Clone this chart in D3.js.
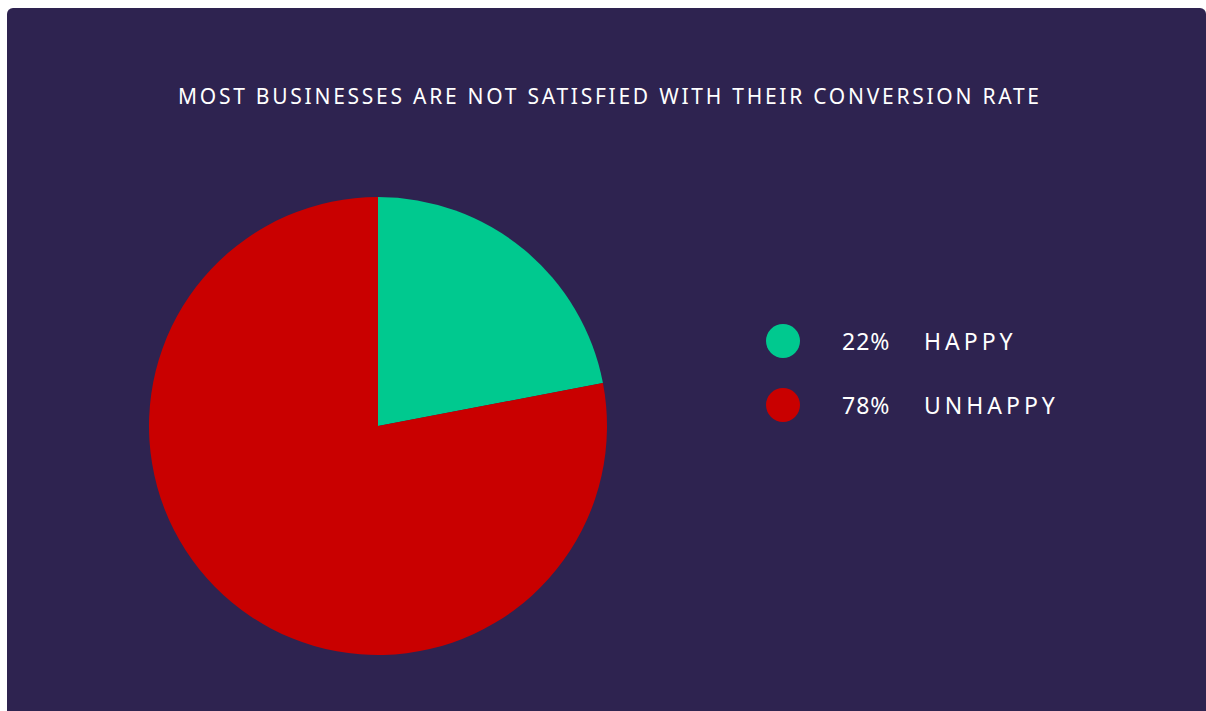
<!DOCTYPE html>
<html>
<head>
<meta charset="utf-8">
<script src="https://cdn.jsdelivr.net/npm/d3@7"></script>
<style>
  html, body { margin: 0; padding: 0; background: #ffffff; }
  svg { display: block; }
  text { font-family: "Noto Sans", "Open Sans", sans-serif; }
</style>
</head>
<body>
<script>
const title = "MOST BUSINESSES ARE NOT SATISFIED WITH THEIR CONVERSION RATE";
const categories = ["HAPPY", "UNHAPPY"];
const values = [22, 78];
const colors = ["#00C98F", "#C90000"];

const W = 1206, H = 711;
const svg = d3.select("body").append("svg").attr("width", W).attr("height", H);

svg.append("rect").attr("x", 7).attr("y", 8).attr("width", W - 7).attr("height", H - 8 + 6)
  .attr("rx", 6).attr("fill", "#2E2350");

svg.append("text").attr("x", 608.5).attr("y", 104).attr("text-anchor", "middle")
  .attr("fill", "#ffffff").attr("font-size", 21)
  .attr("textLength", 861).attr("lengthAdjust", "spacing")
  .attr("font-weight", 400)
  .text(title);

const data = categories.map((c, i) => ({ cat: c, value: values[i], color: colors[i] }));
const pie = d3.pie().value(d => d.value).sort(null);
const arc = d3.arc().innerRadius(0).outerRadius(229);
const g = svg.append("g").attr("transform", "translate(378,426)");
g.selectAll("path").data(pie(data)).join("path")
  .attr("d", arc).attr("fill", d => d.data.color);

const y = d3.scalePoint().domain(categories).range([341, 405]);
const leg = svg.append("g");
const row = leg.selectAll("g").data(data).join("g")
  .attr("transform", d => `translate(0,${y(d.cat)})`);
row.append("circle").attr("cx", 783).attr("cy", 0).attr("r", 17).attr("fill", d => d.color);
row.append("text").attr("x", 842).attr("y", 9).attr("fill", "#fff").attr("font-size", 23)
  .attr("letter-spacing", 1).text(d => d.value + "%");
row.append("text").attr("x", 924).attr("y", 9).attr("fill", "#fff").attr("font-size", 23)
  .attr("letter-spacing", 4).text(d => d.cat);
</script>
</body>
</html>
